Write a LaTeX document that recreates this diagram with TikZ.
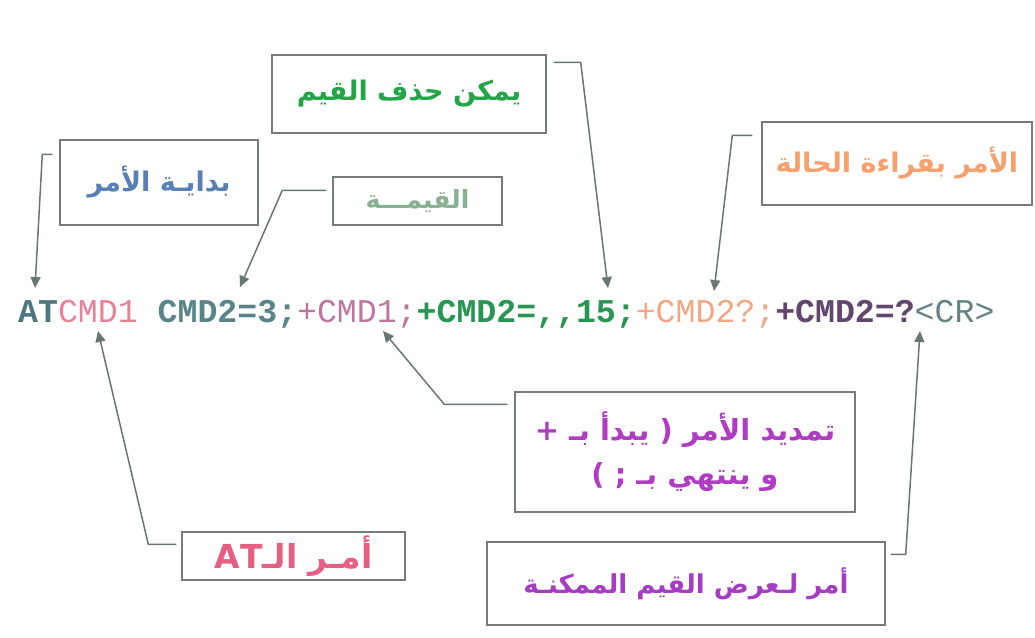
\documentclass[tikz,border=0pt]{standalone}
\usepackage{fontspec}
\usetikzlibrary{arrows.meta,calc}
\TeXXeTstate=1
\newfontfamily\arabicfont[Script=Arabic]{DejaVu Sans}
\newfontfamily\codefont{Liberation Mono}
\definecolor{boxgray}{RGB}{118,124,124}
\definecolor{linegray}{RGB}{105,118,118}
\definecolor{cAT}{RGB}{78,118,130}
\definecolor{cPink}{RGB}{232,128,150}
\definecolor{cTeal}{RGB}{88,132,138}
\definecolor{cMauve}{RGB}{190,118,160}
\definecolor{cGreen}{RGB}{38,150,80}
\definecolor{cOrange}{RGB}{242,166,130}
\definecolor{cDark}{RGB}{98,70,110}
\definecolor{cCR}{RGB}{100,130,132}
\definecolor{tGreen}{RGB}{34,165,70}
\definecolor{tBlue}{RGB}{88,128,180}
\definecolor{tSage}{RGB}{135,178,145}
\definecolor{tOrange}{RGB}{246,160,110}
\definecolor{tViolet}{RGB}{175,60,195}
\definecolor{tPink}{RGB}{228,95,130}
\definecolor{tPurple}{RGB}{165,60,195}
\begin{document}
\begin{tikzpicture}[x=1pt,y=-1pt,
  box/.style={draw=boxgray, line width=1.4pt, fill=white, inner sep=0pt, align=center},
  conn/.style={draw=linegray, line width=1.5pt, -{Triangle[width=10pt,length=11pt]}},
  lbl/.style={font=\arabicfont\bfseries\fontsize{#1}{34}\selectfont},
  code/.style={font=\codefont\fontsize{33.2}{36}\selectfont, inner sep=0pt, anchor=base west}]
\fill[white] (0,0) rectangle (1035,637);
\useasboundingbox (0,0) rectangle (1035,637);

% main command line
\node[code] (cmd) at (18,322) {%
\textcolor{cAT}{\bfseries AT}\textcolor{cPink}{CMD1} \textcolor{cTeal}{\bfseries CMD2=3;}\textcolor{cMauve}{+CMD1;}\textcolor{cGreen}{\bfseries +CMD2=,,15;}\textcolor{cOrange}{+CMD2?;}\textcolor{cDark}{\bfseries +CMD2=?}\textcolor{cCR}{<CR>}};

% boxes
\node[box, lbl=27, text=tGreen, minimum width=274pt, minimum height=78pt] (yumkin) at (409,94) {\beginR يمكن حذف القيم\endR};
\node[box, lbl=27, text=tBlue, minimum width=198pt, minimum height=85pt] (bidaya) at (159,182.5) {\beginR بدايـة الأمر\endR};
\node[box, lbl=25, text=tSage, minimum width=169pt, minimum height=48pt] (qima) at (417.5,201) {\beginR القيمـــة\endR};
\node[box, lbl=27, text=tOrange, minimum width=270pt, minimum height=83pt] (status) at (897,163.5) {\beginR الأمر بقراءة الحالة\endR};
\node[box, lbl=29, text=tViolet, minimum width=340pt, minimum height=120pt] (tamdid) at (685,452) {\beginR تمديد الأمر ( يبدأ بـ +\endR\\[10pt] \beginR و ينتهي بـ ; )\endR};
\node[box, lbl=33, text=tPink, minimum width=223pt, minimum height=48pt] (atcmd) at (293.5,556) {\beginR أمـر الـ\beginL AT\endL\endR};
\node[box, lbl=26, text=tPurple, minimum width=398pt, minimum height=83pt] (display) at (686,583.5) {\beginR أمر لـعرض القيم الممكنـة\endR};

% arrow targets
\coordinate (tBid) at (35,288);
\coordinate (tQim) at (240,287);
\coordinate (tYum) at (608,288);
\coordinate (tSta) at (714,291);
\coordinate (tTam) at (383,331);
\coordinate (tAT) at (98,331);
\coordinate (tDis) at (920,331);

% connectors
\draw[conn] ($(bidaya.north west)+(-7,15)$) -- ++(-10,0) -- (tBid);
\draw[conn] ($(qima.north west)+(-6,14)$) -- ++(-44,0) -- (tQim);
\draw[conn] ($(yumkin.north east)+(7,8)$) -- ++(27,0) -- (tYum);
\draw[conn] ($(status.north west)+(-9,14)$) -- ++(-20,0) -- (tSta);
\draw[conn] ($(tamdid.north west)+(-7,13)$) -- ++(-63,0) -- (tTam);
\draw[conn] ($(atcmd.north west)+(-5,13)$) -- ++(-28,0) -- (tAT);
\draw[conn] ($(display.north east)+(5,13)$) -- ++(15,0) -- (tDis);
\end{tikzpicture}
\end{document}
